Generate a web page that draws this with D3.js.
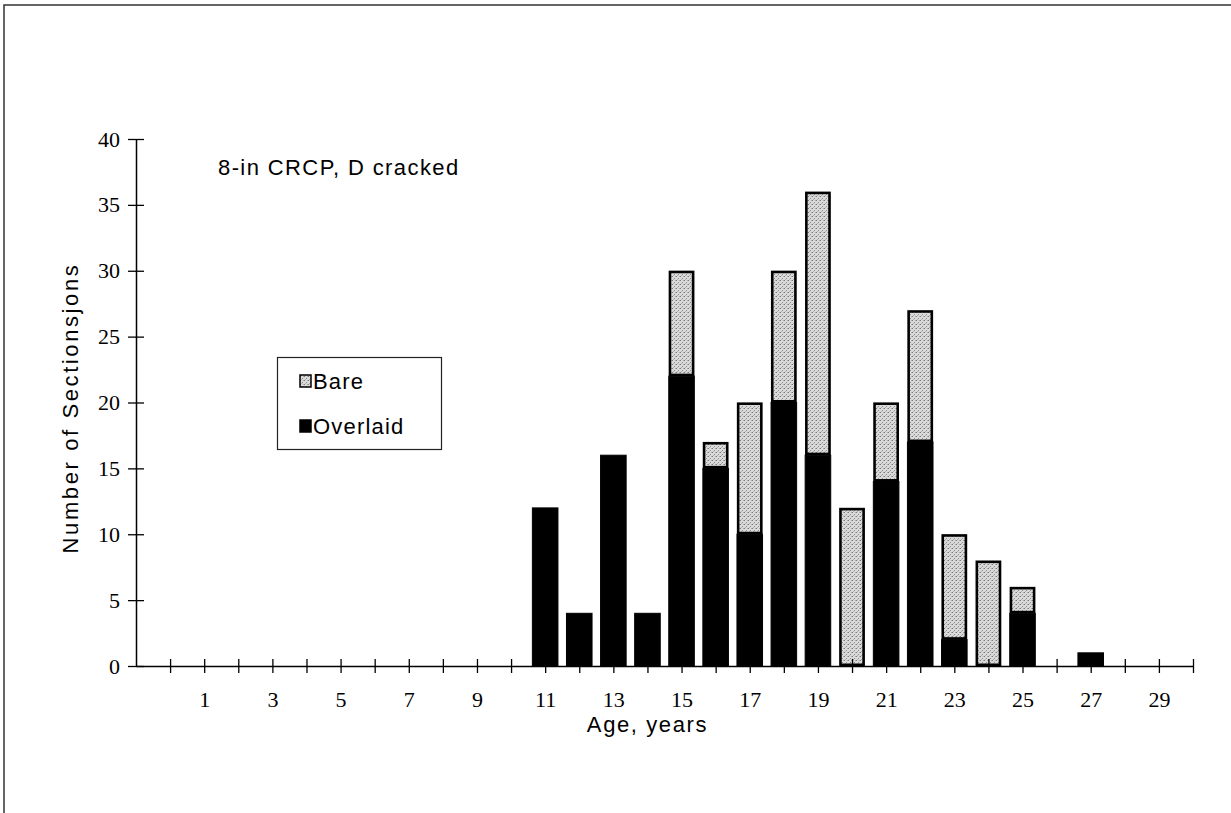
<!DOCTYPE html>
<html><head><meta charset="utf-8">
<script src="https://cdn.jsdelivr.net/npm/d3@7"></script>
<style>html,body{margin:0;padding:0;background:#fff;}svg{display:block;}</style>
</head><body>
<svg id="c" width="1231" height="813"></svg>
<script>
const ages = [11,12,13,14,15,16,17,18,19,20,21,22,23,24,25,26,27,28,29];
const overlaid = [12,4,16,4,22,15,10,20,16,0,14,17,2,0,4,0,1,0,0];
const bare = [0,0,0,0,8,2,10,10,20,12,6,10,8,8,2,0,0,0,0];
const xTickValues = d3.range(0,31);
const xLabelValues = [1,3,5,7,9,11,13,15,17,19,21,23,25,27,29];
const yTickValues = [0,5,10,15,20,25,30,35,40];
const titleText = "8-in CRCP, D cracked";
const xTitle = "Age, years";
const yTitle = "Number of Sectionsjons";
const seriesNames = ["Bare","Overlaid"];

const svg = d3.select("#c");
const serif = "'Liberation Serif','Times New Roman',serif";
const sans = "'Liberation Sans',Arial,Helvetica,sans-serif";

const defs = svg.append("defs");
const pat = defs.append("pattern").attr("id","stip").attr("width",4).attr("height",4).attr("patternUnits","userSpaceOnUse");
pat.append("rect").attr("width",4).attr("height",4).attr("fill","#dadada");
pat.append("rect").attr("x",0).attr("y",0).attr("width",1).attr("height",1).attr("fill","#7a7a7a");
pat.append("rect").attr("x",2).attr("y",2).attr("width",1).attr("height",1).attr("fill","#8f8f8f");
pat.append("rect").attr("x",3).attr("y",0).attr("width",1).attr("height",1).attr("fill","#aaaaaa");
pat.append("rect").attr("x",1).attr("y",3).attr("width",1).attr("height",1).attr("fill","#b0b0b0");

// frame (top + left)
svg.append("path").attr("d","M4,813 V5 H1231").attr("fill","none").attr("stroke","#333").attr("stroke-width",1.5);

const x = d3.scaleLinear().domain([-1,30]).range([136,1193]);
const y = d3.scaleLinear().domain([0,40]).range([666,139]);
const unit = x(1)-x(0);
const bw = unit*0.75;

// bars
const g = svg.append("g");
ages.forEach((a,i)=>{
  const o = overlaid[i], b = bare[i];
  if (o>0) g.append("rect").attr("x",x(a)-bw/2).attr("y",y(o)).attr("width",bw).attr("height",y(0)-y(o)).attr("fill","#000").attr("stroke","#000").attr("stroke-width",1);
  if (b>0) g.append("rect").attr("x",x(a)-bw/2+1.2).attr("y",y(o+b)+1.2).attr("width",bw-2.4).attr("height",y(o)-y(o+b)-2.4).attr("fill","url(#stip)").attr("stroke","#000").attr("stroke-width",2.6);
});

// y axis
const ya = svg.append("g").attr("transform",`translate(${x(-1)},0)`)
  .call(d3.axisLeft(y).tickValues(yTickValues).tickSize(0).tickPadding(16));
ya.select(".domain").attr("stroke","#000").attr("stroke-width",1.5);
ya.selectAll("text").attr("font-family",serif).attr("font-size",22).attr("fill","#000");
ya.selectAll(".tick").append("line").attr("x1",-8).attr("x2",8).attr("stroke","#000").attr("stroke-width",1.3);

// x axis
const xa = svg.append("g").attr("transform",`translate(0,${y(0)})`)
  .call(d3.axisBottom(x).tickValues(xTickValues).tickSize(0).tickFormat(d=>xLabelValues.includes(d)?d:"").tickPadding(25));
xa.select(".domain").attr("stroke","#000").attr("stroke-width",1.5);
xa.selectAll("text").attr("font-family",serif).attr("font-size",22).attr("fill","#000");
xa.selectAll(".tick").append("line").attr("y1",-7).attr("y2",7).attr("stroke","#000").attr("stroke-width",1.3);

// titles
svg.append("text").attr("x",218).attr("y",175).attr("font-family",sans).attr("font-size",22).attr("letter-spacing",1.4).text(titleText);
svg.append("text").attr("x",x(14)).attr("y",732).attr("text-anchor","middle").attr("font-family",sans).attr("font-size",22).attr("letter-spacing",1.6).text(xTitle);
svg.append("text").attr("transform","translate(78,408) rotate(-90)").attr("text-anchor","middle").attr("font-family",sans).attr("font-size",22).attr("letter-spacing",2.6).text(yTitle);

// legend
const lg = svg.append("g");
lg.append("rect").attr("x",277.5).attr("y",357.5).attr("width",164).attr("height",92).attr("fill","#fff").attr("stroke","#222").attr("stroke-width",1.2);
const items = [{n:seriesNames[0],f:"url(#stip)",y:381},{n:seriesNames[1],f:"#000",y:426}];
items.forEach(it=>{
  lg.append("rect").attr("x",300).attr("y",it.y-6).attr("width",11).attr("height",12).attr("fill",it.f).attr("stroke","#000").attr("stroke-width",1.5);
  lg.append("text").attr("x",313).attr("y",it.y+8).attr("font-family",sans).attr("font-size",22).attr("letter-spacing",1.2).text(it.n);
});
</script>
</body></html>
